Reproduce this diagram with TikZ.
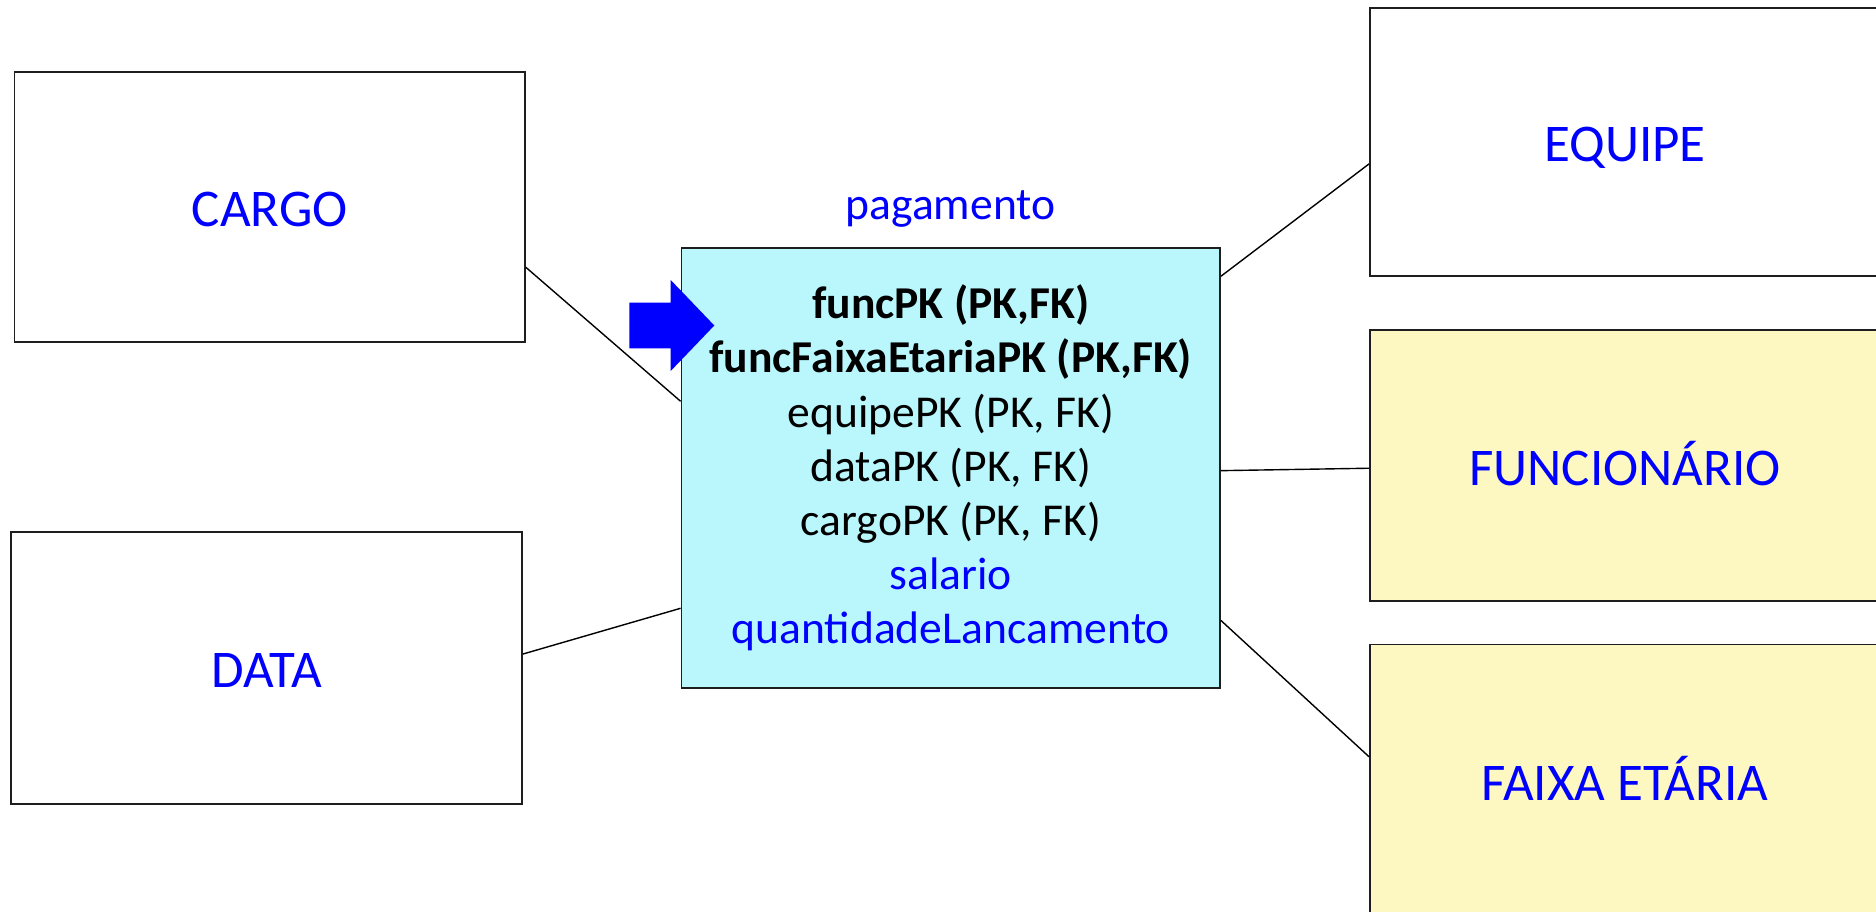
\documentclass[tikz,border=0pt]{standalone}
\usepackage{fontspec}
\setmainfont{Carlito}
\usetikzlibrary{calc}

\definecolor{keyblue}{RGB}{0,0,255}
\definecolor{factfill}{RGB}{185,247,253}
\definecolor{dimyellow}{RGB}{253,248,194}
\definecolor{edgegray}{RGB}{30,30,30}

\tikzset{
  entity/.style={draw=edgegray, line width=1.8pt, fill=white, inner sep=0pt,
    text=keyblue, font=\fontsize{53}{64}\selectfont,
    text height=39pt, text depth=0pt},
  dimbox/.style={entity, fill=dimyellow},
  factbox/.style={draw=edgegray, line width=1.8pt, fill=factfill, inner sep=0pt,
    align=center, font=\fontsize{45.6}{54.2}\selectfont},
  link/.style={draw=black, line width=1.4pt},
}

\begin{document}
\begin{tikzpicture}[x=1pt, y=-1pt]
  \useasboundingbox (0,0) rectangle (1876,911);
  \clip (0,0) rectangle (1876,911);
  \fill[white] (0,0) rectangle (1876,911);

  % dimension tables on the left
  \node[entity, minimum width=510.6pt, minimum height=270pt] (cargo) at (269.7,207) {CARGO};
  \node[entity, minimum width=511pt, minimum height=272pt] (data) at (266.5,668) {DATA};

  % dimension tables on the right (run past the page edge)
  \node[entity, minimum width=510pt, minimum height=268pt] (equipe) at (1625,142) {EQUIPE};
  \node[dimbox, minimum width=510pt, minimum height=271pt] (func) at (1625,465.5) {FUNCIONÁRIO};
  \node[dimbox, minimum width=510pt, minimum height=273pt] (faixa) at (1625,781) {FAIXA ETÁRIA};

  % fact table
  \node[factbox, minimum width=538.5pt, minimum height=440pt] (pay) at (950.75,468)
    {\rule{0pt}{43pt}\textbf{funcPK (PK,FK)}\\
     \strut\textbf{funcFaixaEtariaPK (PK,FK)}\\
     \strut equipePK (PK, FK)\\
     \strut dataPK (PK, FK)\\
     \strut cargoPK (PK, FK)\\
     \strut\textcolor{keyblue}{salario}\\
     \strut\textcolor{keyblue}{quantidadeLancamento}};
  \node[text=keyblue, font=\fontsize{45.6}{54.2}\selectfont, inner sep=0pt, anchor=base]
    (paytitle) at (950.5,219) {pagamento};

  % relationships
  \draw[link] ($(cargo.north east)!0.722!(cargo.south east)$) -- ($(pay.north west)!0.349!(pay.south west)$);
  \draw[link] ($(data.north east)!0.449!(data.south east)$) -- ($(pay.north west)!0.8175!(pay.south west)$);
  \draw[link] ($(pay.north east)!0.066!(pay.south east)$) -- ($(equipe.north west)!0.581!(equipe.south west)$);
  \draw[link] ($(pay.north east)!0.506!(pay.south east)$) -- ($(func.north west)!0.510!(func.south west)$);
  \draw[link] ($(pay.north east)!0.845!(pay.south east)$) -- ($(faixa.north west)!0.412!(faixa.south west)$);

  % marker arrow pointing at the first key
  \fill[keyblue] (629.3,302.7) -- (670.7,302.7) -- (670.7,280) -- (714.3,325.5)
    -- (670.7,371) -- (670.7,348.3) -- (629.3,348.3) -- cycle;
\end{tikzpicture}
\end{document}
